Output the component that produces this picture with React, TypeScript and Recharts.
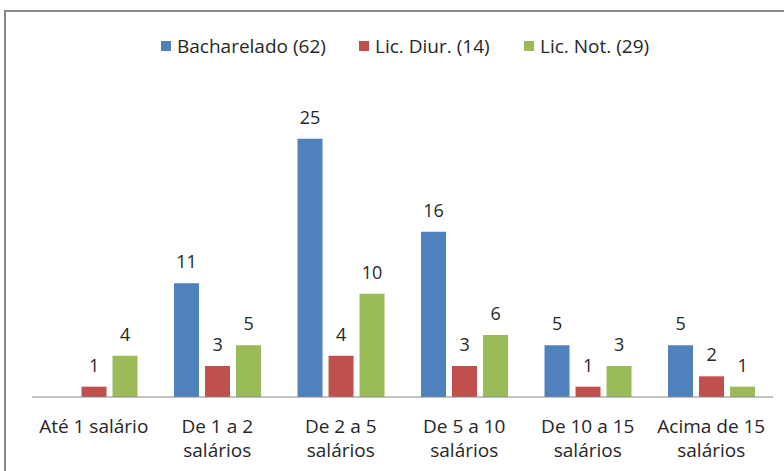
import React from 'react';
import { BarChart, Bar, XAxis, YAxis, LabelList } from 'recharts';

const categories = [
  'Até 1 salário',
  'De 1 a 2\nsalários',
  'De 2 a 5\nsalários',
  'De 5 a 10\nsalários',
  'De 10 a 15\nsalários',
  'Acima de 15\nsalários',
];
const bacharelado = [0, 11, 25, 16, 5, 5];
const licDiur = [1, 3, 4, 3, 1, 2];
const licNot = [4, 5, 10, 6, 3, 1];

const seriesNames = ['Bacharelado (62)', 'Lic. Diur. (14)', 'Lic. Not. (29)'];
const colors = ['#4F81BD', '#C0504D', '#9BBB59'];
const legendLeft = [161, 359, 524];

const data = categories.map((c, i) => ({
  name: c,
  bach: bacharelado[i],
  diur: licDiur[i],
  not: licNot[i],
}));

const FONT = '"Open Sans", sans-serif';
const TEXT = '#262626';

const Tick = (props: any) => {
  const { x, y, payload } = props;
  const lines = String(payload.value).split('\n');
  return (
    <text x={x} y={y} textAnchor="middle" fill={TEXT} fontSize={19} fontFamily={FONT}>
      {lines.map((l, i) => (
        <tspan key={i} x={x} dy={i === 0 ? 36 : 24}>
          {l}
        </tspan>
      ))}
    </text>
  );
};

const fmt = (v: any) => (v === 0 ? '' : v);

export default function App() {
  const keys = ['bach', 'diur', 'not'];
  return (
    <div
      style={{
        position: 'absolute',
        left: 0,
        top: 0,
        width: 784,
        height: 471,
        overflow: 'hidden',
        background: '#fff',
        fontFamily: FONT,
      }}
    >
      <div
        style={{
          position: 'absolute',
          left: 4,
          top: 10,
          width: 900,
          height: 600,
          border: '2px solid #8a8a8a',
        }}
      />
      {seriesNames.map((n, i) => (
        <div
          key={n}
          style={{
            position: 'absolute',
            left: legendLeft[i],
            top: 32,
            height: 28,
            display: 'flex',
            alignItems: 'center',
            whiteSpace: 'nowrap',
            color: TEXT,
            fontSize: 19,
          }}
        >
          <div style={{ width: 10, height: 10, background: colors[i], marginRight: 6 }} />
          <span>{n}</span>
        </div>
      ))}
      <BarChart
        width={784}
        height={471}
        data={data}
        margin={{ top: 87, right: 11, bottom: 0, left: 32 }}
        barCategoryGap="15%"
        barGap={6}
        style={{ position: 'absolute', left: 0, top: 0 }}
      >
        <XAxis
          dataKey="name"
          height={74}
          tickLine={false}
          tickSize={0}
          tickMargin={0}
          axisLine={{ stroke: '#868686', strokeWidth: 1 }}
          tick={<Tick />}
          interval={0}
        />
        <YAxis hide domain={[0, 30]} />
        {keys.map((k, i) => (
          <Bar key={k} dataKey={k} fill={colors[i]} isAnimationActive={false}>
            <LabelList
              dataKey={k}
              position="top"
              offset={15}
              formatter={fmt}
              fill={TEXT}
              fontSize={18}
              fontFamily={FONT}
            />
          </Bar>
        ))}
      </BarChart>
    </div>
  );
}
